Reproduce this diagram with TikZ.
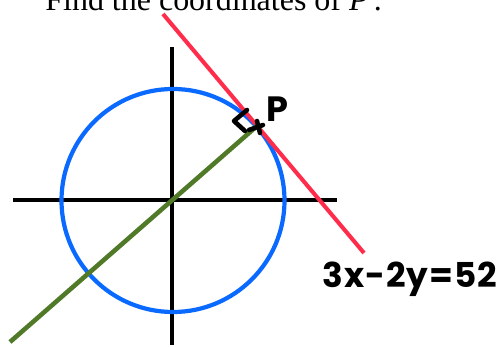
\documentclass[tikz,border=0pt]{standalone}
\usepackage{fontspec}
\setmainfont{Liberation Serif}
\newfontfamily\handfont[LetterSpace=3]{Poppins}
\definecolor{circblue}{RGB}{10,105,255}
\definecolor{tanred}{RGB}{255,45,75}
\definecolor{radgreen}{RGB}{80,122,40}
\begin{document}
\begin{tikzpicture}[
    x=0.02cm, y=-0.02cm,
    axis/.style={draw=black, line width=2.2pt},
    circ/.style={draw=circblue, line width=2.4pt},
    tangent/.style={draw=tanred, line width=2.3pt},
    radial/.style={draw=radgreen, line width=2.6pt},
    hand/.style={draw=black, line width=2.6pt, line cap=round, line join=round},
    handtext/.style={inner sep=0pt, font=\handfont\bfseries\fontsize{19.5}{22}\selectfont}
]
    \useasboundingbox (0,0) rectangle (501,347);
    \clip (0,0) rectangle (501,347);
    \node[anchor=base west, inner sep=0pt, font=\fontsize{18.2}{20}\selectfont] (title) at (45,11) {Find the coordinates of \textit{P}\,.};
    % axes
    \coordinate (O) at (172,200);
    \coordinate (xl) at (13,200);
    \coordinate (xr) at (337,200);
    \coordinate (yt) at (172,47);
    \coordinate (yb) at (172,345);
    \draw[axis] (xl) -- (xr);
    \draw[axis] (yt) -- (yb);
    % circle, tangent and radius
    \draw[circ] (173,200.5) circle[radius=111.5];
    \coordinate (T) at (257,126);
    \coordinate (gl) at (10,342);
    \coordinate (rt) at (163,14);
    \coordinate (rb) at (364,253);
    \draw[tangent] (rt) -- (rb);
    \draw[radial] (gl) -- (T);
    % right angle mark at P
    \draw[hand] (247,110) -- (234,121) -- (245,131);
    \draw[hand] (249,130) -- (263,125);
    \draw[hand] (257,121) -- (260,133);
    \node[handtext, font=\handfont\bfseries\fontsize{20}{22}\selectfont] (P) at (277,109) {P};
    \node[handtext, anchor=base west] (eq) at (322,288) {3x-2y=52};
\end{tikzpicture}
\end{document}
